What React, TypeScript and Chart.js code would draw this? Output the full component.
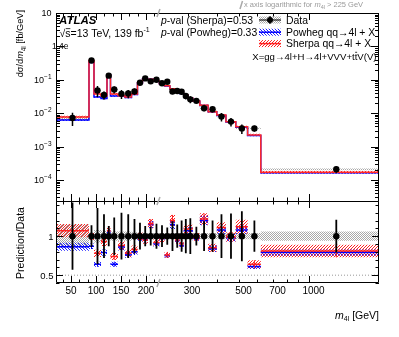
import React, { useEffect, useRef } from "react";
import { Chart, registerables } from "chart.js";

Chart.register(...registerables);

const FONT = '"Liberation Sans", Arial, Helvetica, sans-serif';

// ---------------- data ----------------
const binEdges = [20, 86, 96, 110, 122, 129, 144, 158, 171, 183, 193, 204, 215, 227, 239, 252, 265, 277, 289, 301, 316, 339, 368, 401, 439, 484, 544, 620, 2000];
const dataXsec = [0.0072, 0.38, 0.048, 0.035, 0.133, 0.051, 0.038, 0.039, 0.045, 0.082, 0.11, 0.09, 0.1, 0.079, 0.087, 0.045, 0.046, 0.044, 0.033, 0.026, 0.0234, 0.0141, 0.0131, 0.0079, 0.0056, 0.0035, 0.0035, 0.00021];
const dataStatRel = [0.43, 0.14, 0.36, 0.28, 0.13, 0.24, 0.3, 0.28, 0.22, 0.17, 0.13, 0.12, 0.16, 0.14, 0.11, 0.19, 0.15, 0.2, 0.22, 0.23, 0.12, 0.19, 0.2, 0.28, 0.29, 0.32, 0.2, 0.21];
const dataSystRel = [0.15, 0.05, 0.08, 0.07, 0.05, 0.06, 0.06, 0.06, 0.05, 0.05, 0.04, 0.04, 0.04, 0.04, 0.04, 0.04, 0.04, 0.04, 0.04, 0.04, 0.04, 0.04, 0.04, 0.04, 0.04, 0.04, 0.04, 0.06];
const sherpaRatio = [1.07, 1.0, 0.78, 0.93, 1.07, 0.74, 0.88, 0.78, 0.83, 1.0, 0.95, 1.16, 0.92, 0.97, 0.76, 1.2, 0.95, 0.9, 1.09, 1.09, 0.99, 1.22, 0.85, 1.11, 0.99, 1.12, 0.64, 0.81];
const powhegRatio = [0.865, 0.87, 0.64, 0.79, 1.05, 0.64, 0.86, 0.76, 0.8, 0.98, 0.96, 1.15, 0.9, 0.97, 0.75, 1.15, 0.94, 0.88, 1.07, 1.07, 0.98, 1.2, 0.84, 1.08, 0.98, 1.08, 0.61, 0.79];
const sherpaUncRel = [0.08, 0.05, 0.06, 0.06, 0.05, 0.06, 0.06, 0.06, 0.06, 0.05, 0.05, 0.05, 0.05, 0.05, 0.05, 0.06, 0.05, 0.05, 0.05, 0.05, 0.05, 0.06, 0.06, 0.06, 0.06, 0.08, 0.08, 0.1];
const powhegUncRel = [0.06, 0.04, 0.05, 0.05, 0.04, 0.05, 0.05, 0.05, 0.05, 0.04, 0.04, 0.04, 0.04, 0.04, 0.04, 0.05, 0.04, 0.04, 0.04, 0.04, 0.04, 0.05, 0.05, 0.05, 0.05, 0.05, 0.05, 0.05];

const xTickLabels = [50, 100, 150, 200, 300, 500, 700, 1000];
const xMajorTicks = [50, 100, 150, 200, 1000];
const xMinorTicks = [33.3, 66.7, 83.3, 116.7, 133.3, 166.7, 183.3, 216.7, 300, 400, 500, 600, 700, 800, 900];
const yDecades = [10, 1, 0.1, 0.01, 0.001, 0.0001];
const yDecadeExp = ["", "", "\u22121", "\u22122", "\u22123", "\u22124"];
const ratioLabels = [0.5, 1];

const X_BREAK = 225;
const LOG_K = 465;
const toU = (m: number) => (m <= X_BREAK ? m : X_BREAK + LOG_K * Math.log10(m / X_BREAK));

// ---------------- helpers ----------------
const nBins = binEdges.length - 1;
const centers = binEdges.slice(0, -1).map((e, i) => (e + binEdges[i + 1]) / 2);

function stepPts(vals: number[]) {
  const p = vals.map((v, i) => ({ x: toU(binEdges[i]), y: v }));
  p.push({ x: toU(binEdges[nBins]), y: vals[nBins - 1] });
  return p;
}
function segPts(vals: number[]) {
  const p: any[] = [];
  vals.forEach((v, i) => {
    p.push({ x: toU(binEdges[i]), y: v }, { x: toU(binEdges[i + 1]), y: v }, { x: toU(binEdges[i + 1]), y: null });
  });
  return p;
}
function barPts(lo: number[], hi: number[]) {
  const p: any[] = [];
  lo.forEach((l, i) => {
    const x = toU(centers[i]);
    p.push({ x, y: l }, { x, y: hi[i] }, { x, y: null });
  });
  return p;
}

function hatch(color: string, dir: number, size: number, lw: number) {
  const c = document.createElement("canvas");
  c.width = size;
  c.height = size;
  const g = c.getContext("2d")!;
  g.strokeStyle = color;
  g.lineWidth = lw;
  g.beginPath();
  for (let k = -1; k <= 1; k++) {
    if (dir > 0) {
      g.moveTo(k * size, size);
      g.lineTo(k * size + size, 0);
    } else {
      g.moveTo(k * size, 0);
      g.lineTo(k * size + size, size);
    }
  }
  g.stroke();
  return g.createPattern(c, "repeat")!;
}
function stipple(color: string) {
  const c = document.createElement("canvas");
  c.width = 2;
  c.height = 2;
  const g = c.getContext("2d")!;
  g.fillStyle = color;
  g.fillRect(0, 0, 1, 1);
  g.fillRect(1, 1, 1, 1);
  return g.createPattern(c, "repeat")!;
}

let PATS: any = null;

type Seg = { t: string; size: number; bold?: boolean; italic?: boolean; dy?: number; over?: boolean };
const fontOf = (s: Seg) => `${s.italic ? "italic " : ""}${s.bold ? "bold " : ""}${s.size}px ${FONT}`;
function rich(ctx: CanvasRenderingContext2D, segs: Seg[], x: number, y: number, align: string, color: string) {
  const ws = segs.map((s) => {
    ctx.font = fontOf(s);
    return ctx.measureText(s.t).width;
  });
  const total = ws.reduce((a, b) => a + b, 0);
  let cx = align === "left" ? x : align === "right" ? x - total : x - total / 2;
  ctx.textAlign = "left";
  ctx.textBaseline = "alphabetic";
  ctx.fillStyle = color;
  ctx.strokeStyle = color;
  segs.forEach((s, i) => {
    ctx.font = fontOf(s);
    ctx.fillText(s.t, cx, y + (s.dy || 0));
    if (s.over) {
      ctx.lineWidth = 0.8;
      ctx.beginPath();
      ctx.moveTo(cx + 0.5, y + (s.dy || 0) - s.size * 0.78);
      ctx.lineTo(cx + ws[i] - 0.2, y + (s.dy || 0) - s.size * 0.78);
      ctx.stroke();
    }
    cx += ws[i];
  });
  return total;
}

const overlay = {
  id: "overlay",
  afterDraw(chart: any) {
    if (!PATS) return;
    const ctx: CanvasRenderingContext2D = chart.ctx;
    const xs = chart.scales.x;
    const ys = chart.scales.y;
    const yr = chart.scales.yr;
    const L = xs.left;
    const R = xs.right;
    const T = ys.top;
    const M = ys.bottom;
    const B = yr.bottom;
    const px = (v: number) => Math.round(v) + 0.5;
    ctx.save();
    ctx.strokeStyle = "#000";
    ctx.lineWidth = 1;
    ctx.beginPath();
    ctx.rect(px(L), px(T), Math.round(R - L) - 1, Math.round(M - T));
    ctx.rect(px(L), px(M), Math.round(R - L) - 1, Math.round(B - M) - 1);
    ctx.stroke();

    // ticks
    ctx.beginPath();
    const panels = [
      [T, M],
      [M, B],
    ];
    for (const [top, bot] of panels) {
      for (const m of xMajorTicks) {
        const x = px(xs.getPixelForValue(toU(m)));
        ctx.moveTo(x, top);
        ctx.lineTo(x, top + 7);
        ctx.moveTo(x, bot);
        ctx.lineTo(x, bot - 7);
      }
      for (const m of xMinorTicks) {
        const x = px(xs.getPixelForValue(toU(m)));
        ctx.moveTo(x, top);
        ctx.lineTo(x, top + 3.5);
        ctx.moveTo(x, bot);
        ctx.lineTo(x, bot - 3.5);
      }
    }
    for (let d = -5; d <= 1; d++) {
      for (let k = 1; k <= 9; k++) {
        const v = k * Math.pow(10, d);
        if (v < ys.min || v > ys.max) continue;
        const y = px(ys.getPixelForValue(v));
        const len = k === 1 ? 8 : 4;
        ctx.moveTo(L, y);
        ctx.lineTo(L + len, y);
        ctx.moveTo(R, y);
        ctx.lineTo(R - len, y);
      }
    }
    for (let v = 0.4; v <= 1.451; v += 0.1) {
      const y = px(yr.getPixelForValue(v));
      const major = Math.abs(v - 0.5) < 1e-6 || Math.abs(v - 1) < 1e-6;
      const len = major ? 7 : 3.5;
      ctx.moveTo(L, y);
      ctx.lineTo(L + len, y);
      ctx.moveTo(R, y);
      ctx.lineTo(R - len, y);
    }
    ctx.stroke();

    // axis break marks
    ctx.strokeStyle = "#aaaaaa";
    ctx.lineWidth = 1.5;
    ctx.beginPath();
    const bx = xs.getPixelForValue(toU(X_BREAK));
    for (const yy of [T, M, B]) {
      ctx.moveTo(bx - 1.5, yy + 4);
      ctx.lineTo(bx + 1.5, yy - 4);
    }
    ctx.moveTo(240, 9);
    ctx.lineTo(242.5, 1);
    ctx.stroke();

    // x tick labels
    xTickLabels.forEach((m) => {
      const x = xs.getPixelForValue(toU(m)) + (m > X_BREAK ? 4.5 : 0);
      rich(ctx, [{ t: String(m), size: 10 }], x, 293.8, "center", "#000");
    });

    // y tick labels (top)
    yDecades.forEach((v, i) => {
      const y = ys.getPixelForValue(v);
      if (v === 1) {
        rich(ctx, [{ t: "1.4e", size: 8.5 }], 52, y + 3, "left", "#000");
        return;
      }
      const segs: Seg[] = [{ t: "10", size: 9 }];
      if (yDecadeExp[i]) segs.push({ t: yDecadeExp[i], size: 6.5, dy: -4 });
      rich(ctx, segs, 51.5, y + 3.2, "right", "#000");
    });
    ratioLabels.forEach((v) => {
      const y = yr.getPixelForValue(v);
      rich(ctx, [{ t: String(v), size: 9.5 }], 53.5, y + 3.4, "right", "#000");
    });

    // axis titles
    ctx.save();
    ctx.translate(23, 10);
    ctx.rotate(-Math.PI / 2);
    rich(
      ctx,
      [
        { t: "d\u03c3/d", size: 9.2 },
        { t: "m", size: 9.2, italic: true },
        { t: "4l", size: 6.3, dy: 2.5 },
        { t: " [fb/GeV]", size: 9.2 },
      ],
      0,
      0,
      "right",
      "#000"
    );
    ctx.restore();
    ctx.save();
    ctx.translate(24, (M + B) / 2 + 1);
    ctx.rotate(-Math.PI / 2);
    rich(ctx, [{ t: "Prediction/Data", size: 10.5 }], 0, 0, "center", "#000");
    ctx.restore();
    rich(
      ctx,
      [
        { t: "m", size: 10.5, italic: true },
        { t: "4l", size: 7, dy: 2.5 },
        { t: " [GeV]", size: 10.5 },
      ],
      R,
      318.5,
      "right",
      "#000"
    );

    // labels
    rich(ctx, [{ t: "ATLAS", size: 11.5, bold: true, italic: true }], 59, 24.2, "left", "#000");
    rich(
      ctx,
      [
        { t: "\u221a", size: 10.5 },
        { t: "s", size: 10.5, over: true },
        { t: "=13 TeV, 139 fb", size: 10.5 },
        { t: "-1", size: 7, dy: -4.5 },
      ],
      59.5,
      36.8,
      "left",
      "#000"
    );
    rich(ctx, [{ t: "p", size: 10.4, italic: true }, { t: "-val (Sherpa)=0.53", size: 10.4 }], 161, 23.8, "left", "#000");
    rich(ctx, [{ t: "p", size: 10.4, italic: true }, { t: "-val (Powheg)=0.33", size: 10.4 }], 161, 35.8, "left", "#000");

    // top caption
    rich(
      ctx,
      [
        { t: "x axis logarithmic for ", size: 7.5 },
        { t: "m", size: 7.5, italic: true },
        { t: "4l", size: 5.5, dy: 1.8 },
        { t: " > 225 GeV", size: 7.5 },
      ],
      244,
      6.8,
      "left",
      "#9a9a9a"
    );

    // legend
    const sx0 = 259;
    const sw = 22;
    const rows = [20, 32.2, 43.6];
    ctx.fillStyle = PATS.grey;
    ctx.fillRect(sx0, rows[0] - 3.5, sw, 7);
    ctx.strokeStyle = "#000";
    ctx.lineWidth = 1.2;
    ctx.beginPath();
    ctx.moveTo(sx0, rows[0]);
    ctx.lineTo(sx0 + sw, rows[0]);
    ctx.moveTo(sx0 + sw / 2, rows[0] - 4);
    ctx.lineTo(sx0 + sw / 2, rows[0] + 4);
    ctx.stroke();
    ctx.fillStyle = "#000";
    ctx.beginPath();
    ctx.arc(sx0 + sw / 2, rows[0], 3, 0, Math.PI * 2);
    ctx.fill();
    ctx.fillStyle = PATS.blue;
    ctx.fillRect(sx0, rows[1] - 3.5, sw, 7);
    ctx.strokeStyle = "#0000ff";
    ctx.lineWidth = 1.5;
    ctx.beginPath();
    ctx.moveTo(sx0, rows[1]);
    ctx.lineTo(sx0 + sw, rows[1]);
    ctx.stroke();
    ctx.fillStyle = PATS.red;
    ctx.fillRect(sx0, rows[2] - 3.5, sw, 7);
    ctx.strokeStyle = "#ff2020";
    ctx.beginPath();
    ctx.moveTo(sx0, rows[2]);
    ctx.lineTo(sx0 + sw, rows[2]);
    ctx.stroke();

    rich(ctx, [{ t: "Data", size: 10.4 }], 286, rows[0] + 3.7, "left", "#000");
    rich(ctx, [{ t: "Powheg qq\u21924l + X", size: 10.4 }], 286, rows[1] + 3.7, "left", "#000");
    rich(ctx, [{ t: "Sherpa qq\u21924l + X", size: 10.4 }], 286, rows[2] + 3.7, "left", "#000");
    rich(
      ctx,
      [
        { t: "X=gg\u21924l+H\u21924l+VVV+t", size: 9.6 },
        { t: "t", size: 9.6, over: true },
        { t: "V(V)", size: 9.6 },
      ],
      376.5,
      59.8,
      "right",
      "#000"
    );
    ctx.restore();
  },
};

export default function App() {
  const ref = useRef<HTMLCanvasElement | null>(null);
  useEffect(() => {
    const canvas = ref.current!;
    PATS = {
      red: hatch("#ff2020", 1, 3, 1),
      blue: hatch("#2020ff", -1, 3, 1),
      grey: stipple("#a8a8a8"),
    };
    const pats = PATS;

    const shePred = dataXsec.map((d, i) => d * sherpaRatio[i]);
    const powPred = dataXsec.map((d, i) => d * powhegRatio[i]);

    const none = "rgba(0,0,0,0)";
    const band = (hi: number[], lo: number[], pat: any, yAxisID: string) => [
      { data: stepPts(hi), stepped: true, fill: "+1", backgroundColor: pat, borderColor: none, borderWidth: 0, pointRadius: 0, yAxisID },
      { data: stepPts(lo), stepped: true, fill: false, borderColor: none, borderWidth: 0, pointRadius: 0, yAxisID },
    ];

    const ds: any[] = [
      // ----- top panel -----
      ...band(dataXsec.map((d, i) => d * (1 + dataSystRel[i])), dataXsec.map((d, i) => d * (1 - dataSystRel[i])), pats.grey, "y"),
      ...band(powPred.map((v, i) => v * (1 + powhegUncRel[i])), powPred.map((v, i) => v * (1 - powhegUncRel[i])), pats.blue, "y"),
      ...band(shePred.map((v, i) => v * (1 + sherpaUncRel[i])), shePred.map((v, i) => v * (1 - sherpaUncRel[i])), pats.red, "y"),
      { data: stepPts(powPred), stepped: true, fill: false, borderColor: "#0000ff", borderWidth: 1.5, pointRadius: 0, yAxisID: "y" },
      { data: stepPts(shePred), stepped: true, fill: false, borderColor: "#ff2828", borderWidth: 1.5, pointRadius: 0, yAxisID: "y" },
      {
        data: barPts(dataXsec.map((d, i) => d * (1 - dataStatRel[i])), dataXsec.map((d, i) => d * (1 + dataStatRel[i]))),
        fill: false, borderColor: "#000", borderWidth: 1.5, pointRadius: 0, yAxisID: "y",
      },
      {
        data: dataXsec.map((d, i) => ({ x: toU(centers[i]), y: d })),
        showLine: false, pointRadius: 3.2, pointBackgroundColor: "#000", pointBorderWidth: 0, yAxisID: "y",
      },
      // ----- ratio panel -----
      {
        data: [{ x: toU(binEdges[0]), y: 0.5 }, { x: toU(binEdges[nBins]), y: 0.5 }],
        fill: false, borderColor: "#999", borderWidth: 1, borderDash: [1, 2], pointRadius: 0, yAxisID: "yr",
      },
      ...band(dataSystRel.map((s) => 1 + s), dataSystRel.map((s) => 1 - s), pats.grey, "yr"),
      ...band(powhegRatio.map((r, i) => r * (1 + powhegUncRel[i])), powhegRatio.map((r, i) => r * (1 - powhegUncRel[i])), pats.blue, "yr"),
      ...band(sherpaRatio.map((r, i) => r * (1 + sherpaUncRel[i])), sherpaRatio.map((r, i) => r * (1 - sherpaUncRel[i])), pats.red, "yr"),
      { data: segPts(powhegRatio), fill: false, borderColor: "#0000ff", borderWidth: 1.5, pointRadius: 0, yAxisID: "yr" },
      {
        data: barPts(powhegRatio.map((r, i) => r * (1 - powhegUncRel[i])), powhegRatio.map((r, i) => r * (1 + powhegUncRel[i]))),
        fill: false, borderColor: "#0000ff", borderWidth: 1, pointRadius: 0, yAxisID: "yr",
      },
      { data: segPts(sherpaRatio), fill: false, borderColor: "#ff2020", borderWidth: 1.5, pointRadius: 0, yAxisID: "yr" },
      {
        data: barPts(sherpaRatio.map((r, i) => r * (1 - sherpaUncRel[i])), sherpaRatio.map((r, i) => r * (1 + sherpaUncRel[i]))),
        fill: false, borderColor: "#ff2020", borderWidth: 1, pointRadius: 0, yAxisID: "yr",
      },
      {
        data: barPts(dataStatRel.map((s) => 1 - s), dataStatRel.map((s) => 1 + s)),
        fill: false, borderColor: "#000", borderWidth: 1.8, pointRadius: 0, yAxisID: "yr",
      },
      {
        data: centers.map((c) => ({ x: toU(c), y: 1 })),
        showLine: false, pointRadius: 3.2, pointBackgroundColor: "#000", pointBorderWidth: 0, yAxisID: "yr",
      },
    ];
    ds.forEach((d, i) => {
      d.order = -i;
      d.xAxisID = "x";
      d.tension = 0;
    });

    const chart: any = new Chart(canvas, {
      type: "line",
      data: { datasets: ds },
      options: {
        animation: false,
        responsive: false,
        events: [],
        layout: { padding: { top: 13, right: 20, left: 0, bottom: 0 } },
        plugins: { legend: { display: false }, tooltip: { enabled: false } },
        scales: {
          x: {
            type: "linear",
            min: toU(20),
            max: toU(2000),
            afterBuildTicks: (s: any) => {
              s.ticks = xTickLabels.map((m) => ({ value: toU(m) }));
            },
            afterFit: (s: any) => {
              s.height = 54;
            },
            ticks: { display: false },
            grid: { display: false },
            border: { display: false },
          },
          y: {
            type: "logarithmic",
            position: "left",
            stack: "main",
            stackWeight: 188,
            weight: 1,
            min: 2.35e-5,
            max: 10,
            ticks: { display: false },
            grid: { display: false },
            border: { display: false },
            afterFit: (s: any) => {
              s.width = 56;
            },
          },
          yr: {
            type: "linear",
            position: "left",
            stack: "main",
            stackWeight: 82,
            weight: 0,
            min: 0.4,
            max: 1.45,
            ticks: { display: false },
            grid: { display: false },
            border: { display: false },
            afterFit: (s: any) => {
              s.width = 56;
            },
          },
        },
      } as any,
      plugins: [overlay as any],
    });
    return () => chart.destroy();
  }, []);

  return (
    <div style={{ position: "fixed", left: 0, top: 0, width: 399, height: 337, background: "#fff" }}>
      <canvas ref={ref} width={399} height={337} style={{ display: "block" }} />
    </div>
  );
}
